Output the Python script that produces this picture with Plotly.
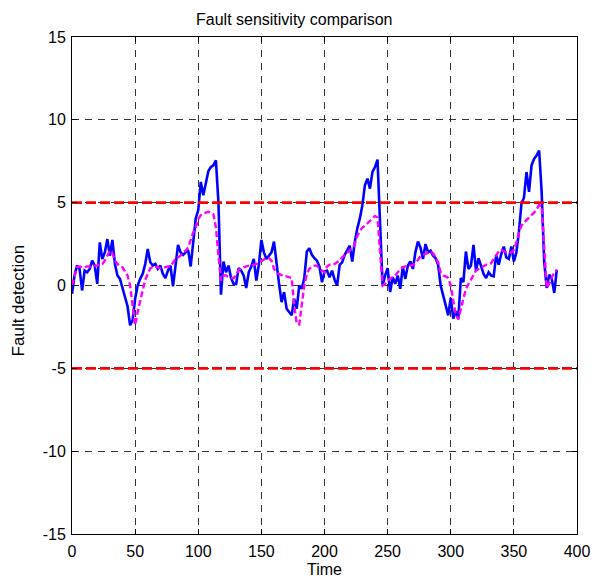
import plotly.graph_objects as go

# ---- data ----
time_blue = list(range(0, 385, 2))
fault_blue = [
    -0.5, 0.6, 1.2, 1.0, -0.3, 0.9, 0.8, 1.0, 1.5, 1.2,
    0.1, 2.6, 1.6, 2.0, 2.8, 1.8, 2.75, 1.3, 0.6, 0.4,
    -0.15, -0.75, -1.25, -2.4, -2.1, -0.8, 0.0, 0.4, 0.7, 1.3,
    2.2, 1.4, 1.2, 1.3, 1.0, 1.2, 0.7, 0.45, 0.9, 1.2,
    -0.05, 1.2, 2.45, 2.0, 1.85, 2.0, 2.15, 1.15, 2.55, 4.05,
    4.55, 6.25, 5.45, 6.3, 6.9, 7.15, 7.25, 7.55, 5.0, -0.55,
    1.45, 0.8, 1.2, 0.45, 0.1, 0.1, 1.05, 0.9, 0.6, -0.15,
    0.8, 1.15, 1.6, 0.3, 1.25, 2.75, 2.0, 1.6, 1.8, 2.0,
    2.65, 1.15, 0.1, -1.0, -0.4, -1.4, -1.6, -1.8, -0.8, -1.4,
    0.0, -0.2, 0.45, 2.05, 2.25, 1.85, 1.65, 1.5, 1.15, 0.2,
    0.85, 0.9, 0.5, 0.9, 0.35, 0.0, 1.25, 1.4, 1.85, 2.15,
    2.4, 1.45, 2.65, 3.45, 4.05, 4.85, 6.05, 6.45, 5.85, 6.85,
    7.15, 7.6, 4.05, 0.0, 0.6, 1.05, -0.4, 0.5, 0.1, 0.6,
    -0.2, 1.15, 0.4, 1.2, 1.45, 1.0, 2.0, 2.65, 2.3, 1.6,
    2.5, 2.0, 2.1, 1.8, 1.65, 1.25, 0.0, -0.7, -1.2, -1.8,
    -0.75, -2.0, -1.55, -2.0, 0.45, 0.2, 2.05, 1.0, 1.2, 2.45,
    0.9, 1.65, 1.2, 0.7, 0.45, 0.8, 0.6, 0.55, 1.85, 1.25,
    1.9, 2.35, 1.7, 1.6, 2.35, 1.45, 2.0, 3.25, 4.95, 5.3,
    6.85, 5.65, 7.25, 7.65, 7.85, 8.15, 5.65, 1.45, -0.15, 0.65,
    0.4, -0.45, 0.95,
]

time_mag = list(range(0, 385, 2))
fault_mag = [
    0.0, 0.6, 1.1, 1.15, 1.1, 1.1, 1.15, 1.15, 1.2, 1.2,
    1.2, 1.3, 1.3, 1.5, 1.8, 2.1, 1.95, 1.5, 1.3, 1.15,
    1.1, 0.8, 0.6, 0.0, -1.2, -2.4, -1.6, -0.9, -0.2, 0.35,
    0.7, 1.05, 1.1, 1.15, 1.1, 1.05, 1.05, 1.1, 1.15, 1.15,
    1.35, 1.6, 1.7, 1.8, 2.0, 2.1, 2.3, 2.8, 3.2, 3.5,
    4.0, 4.25, 4.35, 4.4, 4.45, 4.4, 4.3, 3.5, 1.8, 0.3,
    0.6, 0.6, 0.5, 0.45, 0.45, 0.6, 0.95, 1.05, 1.1, 1.15,
    1.2, 1.2, 1.25, 1.3, 1.4, 1.5, 1.55, 1.65, 1.65, 1.5,
    1.0, 0.8, 0.7, 0.6, 0.55, 0.55, 0.5, 0.45, -1.2, -2.3,
    -2.35, -1.0, 0.0, 0.7, 1.0, 1.15, 1.2, 1.2, 1.0, 0.9,
    0.8, 1.15, 1.25, 1.25, 1.3, 1.4, 1.5, 1.7, 1.85, 2.0,
    2.15, 2.25, 2.5, 3.0, 3.3, 3.5, 3.6, 3.75, 3.9, 4.05,
    4.2, 4.1, 1.8, 0.0, 0.1, 0.3, 0.4, 0.5, 0.6, 0.8,
    0.95, 1.1, 1.15, 1.2, 1.2, 1.25, 1.35, 1.55, 1.75, 1.85,
    1.9, 2.0, 2.05, 1.95, 1.7, 1.4, 0.8, 0.6, 0.55, 0.45,
    0.0, -1.0, -1.8, -2.05, -1.5, -0.8, -0.2, 0.1, 0.4, 0.7,
    0.9, 1.0, 1.1, 1.2, 1.25, 1.3, 1.35, 1.6, 1.8, 2.05,
    2.15, 2.05, 2.0, 1.95, 2.0, 2.15, 2.6, 3.2, 3.6, 3.8,
    3.95, 4.05, 4.2, 4.4, 4.6, 4.85, 4.8, 2.0, -0.15, 0.1,
    0.5, 0.75, 0.95,
]

thresholds = [5, -5]
x_range = [0, 400]
y_range = [-15, 15]
x_ticks = [0, 50, 100, 150, 200, 250, 300, 350, 400]
y_ticks = [-15, -10, -5, 0, 5, 10, 15]
y_tick_labels = ["-15", "-10", "-5", "0", "5", "10", "15"]

title_text = "Fault sensitivity comparison"
x_label = "Time"
y_label = "Fault detection"

FONT = "Liberation Sans Narrow, Arial Narrow, Liberation Sans, Arial, sans-serif"

fig = go.Figure()
fig.add_trace(go.Scatter(x=time_blue, y=fault_blue, mode="lines",
                         line=dict(color="#0000ff", width=2.6),
                         showlegend=False))
fig.add_trace(go.Scatter(x=time_mag, y=fault_mag, mode="lines",
                         line=dict(color="#ff00ff", width=2.4, dash="6px,3px"),
                         showlegend=False))
for th in thresholds:
    fig.add_trace(go.Scatter(x=x_range, y=[th, th], mode="lines",
                             line=dict(color="#ff0000", width=2.6, dash="10px,4px"),
                             showlegend=False))

axis_common = dict(
    showline=True, linecolor="black", linewidth=1, mirror="ticks",
    ticks="inside", ticklen=5, tickcolor="black",
    showgrid=True, gridcolor="#333333", gridwidth=1, griddash="7px,6px",
    zeroline=False, automargin=False,
    tickfont=dict(family=FONT, size=16, color="black"),
)

fig.update_xaxes(range=x_range, tickvals=x_ticks, ticklabelstandoff=3, **axis_common)
fig.update_yaxes(range=y_range, tickvals=y_ticks, ticktext=y_tick_labels,
                 ticklabelstandoff=2, **axis_common)

fig.update_layout(
    width=600, height=578,
    margin=dict(l=72, r=23, t=37, b=44),
    paper_bgcolor="white", plot_bgcolor="white",
    font=dict(family=FONT, size=16, color="black"),
    annotations=[
        dict(text=title_text, xref="paper", yref="paper", x=0.44, y=1.0,
             xanchor="center", yanchor="bottom", yshift=7, showarrow=False,
             font=dict(family=FONT, size=16, color="black")),
        dict(text=x_label, xref="paper", yref="paper", x=0.5, y=0,
             xanchor="center", yanchor="middle", yshift=-35, showarrow=False,
             font=dict(family=FONT, size=16, color="black")),
        dict(text=y_label, xref="paper", yref="paper", x=0, y=0.47,
             xanchor="center", yanchor="middle", xshift=-54, showarrow=False,
             textangle=-90,
             font=dict(family=FONT, size=17, color="black")),
    ],
)

fig.write_html("out.html")
